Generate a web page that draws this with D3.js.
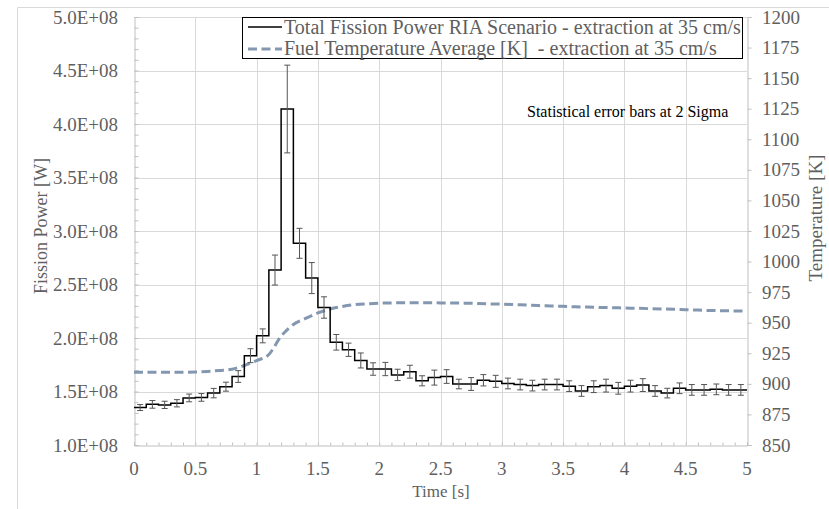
<!DOCTYPE html>
<html><head><meta charset="utf-8">
<script src="https://cdn.jsdelivr.net/npm/d3@7"></script>
<style>
body{margin:0;background:#fff;}
svg{display:block;}
svg text{font-family:"Liberation Serif","Times New Roman",serif;}
</style></head>
<body><svg id="c" width="829" height="509"></svg>
<script>
// ---- data ----
const binStart = [0.0,0.1,0.2,0.3,0.4,0.5,0.6,0.7,0.8,0.9,1.0,1.1,1.2,1.3,1.4,1.5,1.6,1.7,1.8,1.9,
  2.0,2.1,2.2,2.3,2.4,2.5,2.6,2.7,2.8,2.9,3.0,3.1,3.2,3.3,3.4,3.5,3.6,3.7,3.8,3.9,
  4.0,4.1,4.2,4.3,4.4,4.5,4.6,4.7,4.8,4.9];
const binWidth = 0.1;
const powerW = [1.35e8,1.38e8,1.375e8,1.39e8,1.44e8,1.445e8,1.485e8,1.545e8,1.64e8,1.835e8,
  2.02e8,2.635e8,4.14e8,2.885e8,2.56e8,2.285e8,1.96e8,1.89e8,1.79e8,1.71e8,
  1.71e8,1.655e8,1.685e8,1.60e8,1.63e8,1.64e8,1.57e8,1.57e8,1.605e8,1.595e8,
  1.575e8,1.565e8,1.555e8,1.565e8,1.565e8,1.55e8,1.505e8,1.545e8,1.555e8,1.53e8,
  1.55e8,1.56e8,1.505e8,1.485e8,1.53e8,1.515e8,1.515e8,1.52e8,1.515e8,1.515e8];
const powerErr = [0.028e8,0.036e8,0.034e8,0.034e8,0.036e8,0.036e8,0.044e8,0.042e8,0.055e8,0.065e8,
  0.065e8,0.14e8,0.41e8,0.14e8,0.145e8,0.10e8,0.073e8,0.062e8,0.07e8,0.058e8,
  0.062e8,0.053e8,0.06e8,0.047e8,0.07e8,0.064e8,0.045e8,0.06e8,0.053e8,0.056e8,
  0.05e8,0.05e8,0.05e8,0.05e8,0.05e8,0.05e8,0.05e8,0.055e8,0.06e8,0.055e8,
  0.055e8,0.06e8,0.05e8,0.045e8,0.05e8,0.05e8,0.05e8,0.05e8,0.05e8,0.05e8];
const tempTime = [0,0.1,0.2,0.3,0.4,0.5,0.6,0.7,0.8,0.9,1.0,1.1,1.2,1.3,1.4,1.5,1.6,1.7,1.8,1.9,
  2.0,2.1,2.2,2.3,2.4,2.5,2.6,2.7,2.8,2.9,3.0,3.1,3.2,3.3,3.4,3.5,3.6,3.7,3.8,3.9,
  4.0,4.1,4.2,4.3,4.4,4.5,4.6,4.7,4.8,4.9,5.0];
const tempK = [909.5,909.5,909.5,909.5,909.5,909.7,910.2,911,912,915,919,924,939,948.5,953.5,958,961.2,963.3,964.8,965.5,
  966,966.2,966.3,966.3,966.3,966.2,966.1,966,965.7,965.4,965.2,964.8,964.4,964,963.7,963.4,963,962.8,962.5,962.3,
  962,961.8,961.5,961.2,961,960.6,960.3,960,959.8,959.6,959.5];
const xTicks = [0,0.5,1,1.5,2,2.5,3,3.5,4,4.5,5];
const xTickLabels = ["0","0.5","1","1.5","2","2.5","3","3.5","4","4.5","5"];
const yLeftTicks = [1.0e8,1.5e8,2.0e8,2.5e8,3.0e8,3.5e8,4.0e8,4.5e8,5.0e8];
const yLeftLabels = ["1.0E+08","1.5E+08","2.0E+08","2.5E+08","3.0E+08","3.5E+08","4.0E+08","4.5E+08","5.0E+08"];
const yRightTicks = [850,875,900,925,950,975,1000,1025,1050,1075,1100,1125,1150,1175,1200];
const legendLabels = ["Total Fission Power RIA Scenario - extraction at 35 cm/s",
  "Fuel Temperature Average [K]  - extraction at 35 cm/s"];
const noteText = "Statistical error bars at 2 Sigma";

// ---- layout ----
const L=134, R=747, T=17, B=445;
const x = d3.scaleLinear().domain([0,5]).range([L,R]);
const yL = d3.scaleLinear().domain([1e8,5e8]).range([B,T]);
const yR = d3.scaleLinear().domain([850,1200]).range([B,T]);
const svg = d3.select("#c");
const FONT = "'Liberation Serif','Times New Roman',serif";
const txtCol = "#5f5f5f", gridCol="#d9d9d9", axisCol="#bfbfbf";

// outer chart border
svg.append("path").attr("d","M17.5,509V7.5H829").attr("fill","none").attr("stroke",gridCol);

// gridlines
svg.append("g").selectAll("line").data(yLeftTicks.slice(1)).join("line")
  .attr("x1",L).attr("x2",R).attr("y1",d=>Math.round(yL(d))+0.5).attr("y2",d=>Math.round(yL(d))+0.5)
  .attr("stroke",gridCol);
svg.append("g").selectAll("line").data(xTicks.slice(1,-1)).join("line")
  .attr("y1",T).attr("y2",B).attr("x1",d=>Math.round(x(d))+0.5).attr("x2",d=>Math.round(x(d))+0.5)
  .attr("stroke",gridCol);

// axes
const gx = svg.append("g").attr("transform",`translate(0,${B+0.5})`)
  .call(d3.axisBottom(x).tickValues(d3.range(0,51).map(i=>i/10)).tickSize(-3).tickFormat(""));
gx.selectAll("line").attr("stroke",axisCol);
gx.select(".domain").attr("stroke",axisCol);
svg.append("g").selectAll("text").data(xTicks).join("text")
  .attr("x",d=>x(d)).attr("y",475).attr("text-anchor","middle").attr("font-family",FONT)
  .attr("font-size",19).attr("fill",txtCol).text((d,i)=>xTickLabels[i]);

const gyl = svg.append("g").attr("transform",`translate(${L+0.5},0)`)
  .call(d3.axisLeft(yL).tickValues(d3.range(10,51).map(i=>i*1e7)).tickSize(-4).tickFormat(""));
gyl.selectAll("line").attr("stroke",axisCol);
gyl.select(".domain").attr("stroke",axisCol);
svg.append("g").selectAll("text").data(yLeftTicks).join("text")
  .attr("x",118).attr("y",d=>yL(d)+6.5).attr("text-anchor","end").attr("font-family",FONT)
  .attr("font-size",19).attr("fill",txtCol).text((d,i)=>yLeftLabels[i]);

const gyr = svg.append("g").attr("transform",`translate(${R+0.5},0)`)
  .call(d3.axisRight(yR).tickValues(yRightTicks).tickSize(4).tickFormat(""));
gyr.selectAll("line").attr("stroke",axisCol);
gyr.select(".domain").attr("stroke",axisCol);
svg.append("g").selectAll("text").data(yRightTicks).join("text")
  .attr("x",762).attr("y",d=>yR(d)+6.5).attr("text-anchor","start").attr("font-family",FONT)
  .attr("font-size",19).attr("fill",txtCol).text(d=>d);

// axis titles
svg.append("text").attr("transform","translate(441,497)").attr("text-anchor","middle").attr("font-family",FONT)
  .attr("font-size",17).attr("fill",txtCol).text("Time [s]");
svg.append("text").attr("transform","translate(47,226) rotate(-90)").attr("text-anchor","middle").attr("font-family",FONT)
  .attr("font-size",18).attr("fill",txtCol).text("Fission Power [W]");
svg.append("text").attr("transform","translate(822,218) rotate(-90)").attr("text-anchor","middle").attr("font-family",FONT)
  .attr("font-size",19).attr("fill",txtCol).text("Temperature [K]");

// temperature line
const tempData = tempTime.map((t,i)=>[t,tempK[i]]);
svg.append("path").datum(tempData)
  .attr("d",d3.line().x(d=>x(d[0])).y(d=>yR(d[1])).curve(d3.curveMonotoneX))
  .attr("fill","none").attr("stroke","#8497b0").attr("stroke-width",3)
  .attr("stroke-dasharray","9,4.5");

// power step line
const stepData = binStart.map((t,i)=>[t,powerW[i]]);
stepData.push([binStart[binStart.length-1]+binWidth, powerW[powerW.length-1]]);
svg.append("path").datum(stepData)
  .attr("d",d3.line().x(d=>x(d[0])).y(d=>yL(d[1])).curve(d3.curveStepAfter))
  .attr("fill","none").attr("stroke","#000").attr("stroke-width",1.5);

// error bars
const eb = svg.append("g").attr("stroke","#555").attr("stroke-width",1);
binStart.forEach((t,i)=>{
  const cx = x(t+binWidth/2), y1 = yL(powerW[i]-powerErr[i]), y2 = yL(powerW[i]+powerErr[i]);
  eb.append("line").attr("x1",cx).attr("x2",cx).attr("y1",y1).attr("y2",y2);
  eb.append("line").attr("x1",cx-3).attr("x2",cx+3).attr("y1",y1).attr("y2",y1);
  eb.append("line").attr("x1",cx-3).attr("x2",cx+3).attr("y1",y2).attr("y2",y2);
});

// legend
const lg = svg.append("g");
lg.append("rect").attr("x",242.5).attr("y",17.5).attr("width",500).attr("height",41)
  .attr("fill","#fff").attr("stroke","#000").attr("stroke-width",1);
lg.append("line").attr("x1",248).attr("x2",282).attr("y1",27).attr("y2",27)
  .attr("stroke","#000").attr("stroke-width",1.5);
lg.append("line").attr("x1",248).attr("x2",282).attr("y1",49).attr("y2",49)
  .attr("stroke","#8497b0").attr("stroke-width",3).attr("stroke-dasharray","9,4.5");
lg.append("text").attr("x",284).attr("y",34).attr("font-size",20).attr("fill",txtCol).attr("font-family",FONT)
  .style("white-space","pre").text(legendLabels[0]);
lg.append("text").attr("x",284).attr("y",55).attr("font-size",20).attr("fill",txtCol).attr("font-family",FONT)
  .style("white-space","pre").text(legendLabels[1]);

// note
svg.append("text").attr("x",527).attr("y",117).attr("font-size",16).attr("fill","#000").attr("font-family",FONT).text(noteText);
</script></body></html>
